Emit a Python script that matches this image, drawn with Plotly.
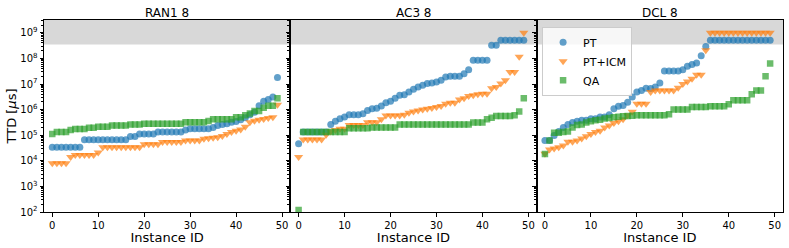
import math
import plotly.graph_objects as go
from plotly.subplots import make_subplots

instance_ids = list(range(50))
panel_titles = ["RAN1 8", "AC3 8", "DCL 8"]
series_names = ["PT", "PT+ICM", "QA"]
timeout_us = 3.5e8

ran1_pt = [3.4e4]*7 + [6.6e4]*10 + [8.9e4]*2 + [1.12e5]*4 + [1.32e5]*6 + [1.6e5] + [1.78e5]*5 + \
    [2.0e5, 2.4e5, 2.6e5, 2.8e5, 3.2e5, 3.4e5, 4.0e5, 4.8e5, 6.3e5, 7.9e5, 1.4e6, 2.1e6, 2.5e6, 3.1e6, 1.8e7]
ran1_icm = [8e3]*4 + [1.4e4] + [1.7e4]*5 + [2.1e4] + [3.4e4]*9 + [4.4e4]*4 + [5.4e4]*5 + [6.2e4]*4 + \
    [7.2e4, 7.6e4, 7.9e4, 8.3e4, 9.3e4, 1.12e5, 1.32e5, 1.5e5, 1.66e5, 2.14e5, 3.2e5, 3.7e5, 4.0e5, 4.3e5, 4.7e5, 5.0e5, 1.55e6]
ran1_qa = [1.12e5] + [1.32e5]*3 + [1.58e5] + [1.74e5]*3 + [1.95e5]*2 + [2.14e5]*3 + [2.4e5]*4 + [2.6e5]*3 + \
    [2.8e5]*9 + [3.2e5]*5 + [3.6e5] + [4.2e5]*5 + [5.0e5]*2 + [6.0e5, 7.1e5] + [8.9e5]*2 + [1.17e6] + [1.4e6]*2 + [2.8e6]

ac3_pt = [4.6e4] + [1.32e5]*6 + [2.6e5, 3.5e5, 4.4e5, 5.1e5] + [6.3e5]*3 + \
    [6.9e5, 9.3e5, 1.07e6, 1.12e6, 1.38e6, 1.86e6, 2.1e6, 2.8e6, 3.6e6, 3.8e6, 4.9e6, 6.2e6, 7.6e6, 8.9e6,
     1.05e7, 1.1e7, 1.2e7, 1.4e7, 1.86e7] + [2.0e7]*3 + [2.5e7, 3.6e7] + [8.5e7]*4 + [3.3e8]*2 + [5.1e8]*6
ac3_icm = [1.4e4] + [6.8e4]*5 + [1.05e5, 1.4e5, 1.6e5] + [1.78e5]*2 + [2.5e5]*4 + [3.2e5]*3 + [4.2e5] + [5.9e5]*4 + \
    [6.3e5, 7.6e5, 8.5e5, 9.3e5, 1.0e6, 1.07e6, 1.15e6, 1.26e6, 1.38e6, 1.7e6] + [1.86e6]*2 + \
    [2.5e6, 2.8e6, 3.4e6, 3.6e6, 4.0e6] + [4.2e6]*2 + [6.9e6, 7.6e6, 1.05e7, 1.4e7] + [2.95e7]*2 + [1.15e8, 1.0e9]
ac3_qa = [1.2e2] + [1.32e5]*10 + [1.86e5]*5 + [2.0e5]*6 + [2.6e5]*16 + [3.1e5]*3 + [4.2e5, 4.8e5] + [5.6e5]*4 + \
    [6.0e5, 8.5e5, 2.8e6]

dcl_pt = [6.2e4]*2 + [9.8e4, 1.4e5, 2.0e5, 2.6e5, 3.1e5, 3.5e5] + [3.8e5]*2 + [4.4e5]*2 + [5.1e5]*2 + \
    [6.3e5, 1.07e6, 1.35e6, 1.45e6, 1.95e6, 3.1e6, 4.9e6, 5.6e6, 6.9e6, 6.6e6, 7.6e6, 1.1e7] + [3.2e7]*4 + \
    [3.6e7, 4.9e7, 5.8e7, 6.6e7, 1.26e8, 2.9e8] + [5.1e8]*14
dcl_icm = [1.9e4, 2.75e4, 3.0e4, 3.4e4, 4.0e4] + [5.6e4]*2 + \
    [6.2e4, 7.4e4, 9.1e4, 1.12e5, 1.32e5, 1.5e5, 2.0e5, 2.4e5, 3.0e5, 3.5e5, 4.2e5, 6.0e5, 8.3e5] + [1.7e6]*3 + \
    [4.9e6] + [5.6e6]*5 + [7.1e6, 1.0e7, 1.26e7, 1.6e7] + [2.3e7]*2 + [2.1e8] + [1.0e9]*14
dcl_qa = [1.86e4, 6.2e4, 1.26e5, 1.26e5, 1.32e5, 1.4e5, 2.0e5, 2.5e5, 2.6e5, 3.1e5, 3.5e5, 3.8e5, 4.0e5, 4.5e5,
          4.7e5, 5.0e5, 5.2e5, 5.5e5, 5.6e5, 5.75e5] + [6.0e5]*7 + [6.6e5] + [1.0e6]*4 + [1.26e6]*4 + [1.35e6]*4 + \
    [1.6e6] + [2.3e6]*4 + [4.0e6] + [5.6e6]*2 + [2.0e7, 6.3e7]

panels = [
    [ran1_pt, ran1_icm, ran1_qa],
    [ac3_pt, ac3_icm, ac3_qa],
    [dcl_pt, dcl_icm, dcl_qa],
]

colors = ["#1f77b4", "#ff7f0e", "#2ca02c"]
symbols = ["circle", "triangle-down", "square"]
sizes = [7, 8, 6.5]

y_lo, y_hi = 2, 9.5
ytick_vals = [10**k for k in range(2, 10)]
ytick_text = ["10<sup>%d</sup>" % k for k in range(2, 10)]

fig = make_subplots(rows=1, cols=3, shared_yaxes=True, horizontal_spacing=0.0,
                    subplot_titles=panel_titles)

for c, series in enumerate(panels, start=1):
    for s, vals in enumerate(series):
        fig.add_trace(go.Scatter(
            x=instance_ids, y=vals, mode="markers", name=series_names[s],
            showlegend=(c == 3),
            marker=dict(color=colors[s], symbol=symbols[s], size=sizes[s], opacity=0.7,
                        line=dict(width=0)),
        ), row=1, col=c)
    band_y0 = (math.log10(timeout_us) - y_lo) / (y_hi - y_lo)
    xref = "x domain" if c == 1 else "x%d domain" % c
    yref = "y domain" if c == 1 else "y%d domain" % c
    fig.add_shape(type="rect", xref=xref, yref=yref, x0=0, x1=1, y0=band_y0, y1=1,
                  fillcolor="rgb(216,216,216)", line=dict(width=0), layer="below")
    fig.update_xaxes(row=1, col=c, range=[-1.8, 51.8], tickvals=[0, 10, 20, 30, 40, 50],
                     ticks="outside", ticklen=3.5, tickwidth=0.8, tickcolor="black",
                     showline=True, mirror=True, linecolor="black", linewidth=1,
                     showgrid=False, zeroline=False,
                     tickfont=dict(family="DejaVu Sans", size=10, color="black"),
                     title=dict(text="Instance ID", standoff=0,
                                font=dict(family="DejaVu Sans", size=13, color="black")))
    fig.update_yaxes(row=1, col=c, type="log", range=[y_lo, y_hi],
                     tickvals=ytick_vals, ticktext=ytick_text, showticklabels=(c == 1),
                     ticks="outside", ticklen=3.5, tickwidth=0.8, tickcolor="black",
                     minor=dict(ticks="outside", ticklen=2, tickwidth=0.6, tickcolor="black",
                                dtick="D1", showgrid=False),
                     showline=True, mirror=True, linecolor="black", linewidth=1,
                     showgrid=False, zeroline=False,
                     tickfont=dict(family="DejaVu Sans", size=10, color="black"))

fig.update_yaxes(row=1, col=1, title=dict(text="TTD [<i>μ</i>s]", standoff=0,
                                            font=dict(family="DejaVu Sans", size=13, color="black")))

for ann in fig.layout.annotations:
    ann.font = dict(family="DejaVu Sans", size=12, color="black")
    ann.yshift = -2

fig.update_layout(
    width=789, height=248,
    margin=dict(l=44, r=6, t=20, b=36),
    paper_bgcolor="white", plot_bgcolor="white",
    font=dict(family="DejaVu Sans", color="black"),
    legend=dict(x=0.674, y=0.965, xanchor="left", yanchor="top",
                bgcolor="rgba(255,255,255,0.8)", bordercolor="rgb(204,204,204)", borderwidth=1,
                font=dict(family="DejaVu Sans", size=11, color="black"),
                itemwidth=30, tracegroupgap=0),
)

fig.write_html("out.html", config={"displayModeBar": False},
               post_script="document.body.style.margin='0';document.body.style.overflow='hidden';")
